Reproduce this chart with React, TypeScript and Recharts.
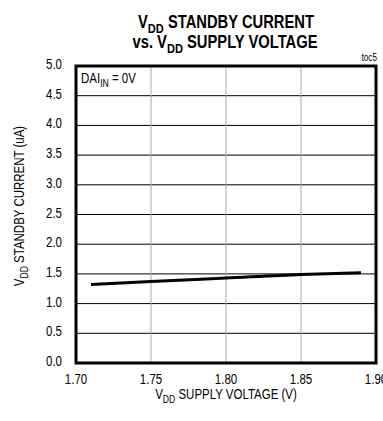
import React from "react";
import {
  LineChart,
  Line,
  XAxis,
  YAxis,
  CartesianGrid,
  ReferenceArea,
} from "recharts";

const voltage = [1.71, 1.75, 1.8, 1.85, 1.89];
const current = [1.32, 1.37, 1.43, 1.49, 1.52];
const xTicks = [1.7, 1.75, 1.8, 1.85, 1.9];
const yTicks = [0, 0.5, 1, 1.5, 2, 2.5, 3, 3.5, 4, 4.5, 5];

const data = voltage.map((v, i) => ({ v, i: current[i] }));

const FONT = "'Liberation Sans', Arial, sans-serif";
const SQUEEZE = 0.82; // reference uses a condensed face

// text drawn narrow, like Arial Narrow
function N({ x, y, size, anchor = "start", bold = false, rotate = 0, children }: any) {
  return (
    <text
      transform={`translate(${x} ${y}) rotate(${rotate}) scale(${SQUEEZE} 1)`}
      textAnchor={anchor}
      fontSize={size}
      fontWeight={bold ? "bold" : "normal"}
      fontFamily={FONT}
      fill="#000"
    >
      {children}
    </text>
  );
}

function Sub({ main, sub, rest, size }: { main: string; sub: string; rest: string; size: number }) {
  return (
    <>
      {main}
      <tspan fontSize={size * 0.75} dy={size * 0.25}>{sub}</tspan>
      <tspan dy={-size * 0.25}>{rest}</tspan>
    </>
  );
}

const XTick = ({ x, y, payload }: any) => (
  <N x={x} y={y + 21} size={14} anchor="middle">{payload.value.toFixed(2)}</N>
);

const YTick = ({ x, y, payload }: any) => (
  <N x={x - 14} y={y + 3} size={14} anchor="end">{payload.value.toFixed(1)}</N>
);

export default function App() {
  return (
    <div style={{ position: "absolute", left: 0, top: 0, width: 383, height: 421, background: "#fff" }}>
      <LineChart
        width={383}
        height={421}
        data={data}
        margin={{ top: 66, right: 7, bottom: 0, left: 0 }}
      >
        <CartesianGrid horizontal={true} vertical={false} stroke="#000" strokeWidth={1} />
        <CartesianGrid horizontal={false} vertical={true} stroke="#aaa" strokeWidth={1} />
        <XAxis
          dataKey="v"
          type="number"
          domain={[1.7, 1.9]}
          ticks={xTicks}
          tickLine={false}
          axisLine={false}
          tickSize={0}
          tickMargin={0}
          height={58}
          tick={<XTick />}
          interval={0}
        />
        <YAxis
          type="number"
          domain={[0, 5]}
          ticks={yTicks}
          tickLine={false}
          axisLine={false}
          tickSize={0}
          tickMargin={0}
          width={76}
          tick={<YTick />}
          interval={0}
        />
        <ReferenceArea x1={1.7} x2={1.9} y1={0} y2={5} fill="none" stroke="#000" strokeWidth={3} ifOverflow="visible" />
        <Line
          dataKey="i"
          type="monotone"
          stroke="#000"
          strokeWidth={3}
          dot={false}
          isAnimationActive={false}
        />
        <N x={226} y={28} size={18} anchor="middle" bold>
          <Sub main="V" sub="DD" rest=" STANDBY CURRENT" size={18} />
        </N>
        <N x={225} y={48} size={18} anchor="middle" bold>
          <Sub main="vs. V" sub="DD" rest=" SUPPLY VOLTAGE" size={18} />
        </N>
        <N x={377} y={61} size={10} anchor="end">toc5</N>
        <N x={81} y={83} size={14}>
          <Sub main="DAI" sub="IN" rest=" = 0V" size={14} />
        </N>
        <N x={226} y={399} size={14} anchor="middle">
          <Sub main="V" sub="DD" rest=" SUPPLY VOLTAGE (V)" size={14} />
        </N>
        <N x={24} y={206} size={14} anchor="middle" rotate={-90}>
          <Sub main="V" sub="DD" rest=" STANDBY CURRENT (uA)" size={14} />
        </N>
      </LineChart>
    </div>
  );
}
